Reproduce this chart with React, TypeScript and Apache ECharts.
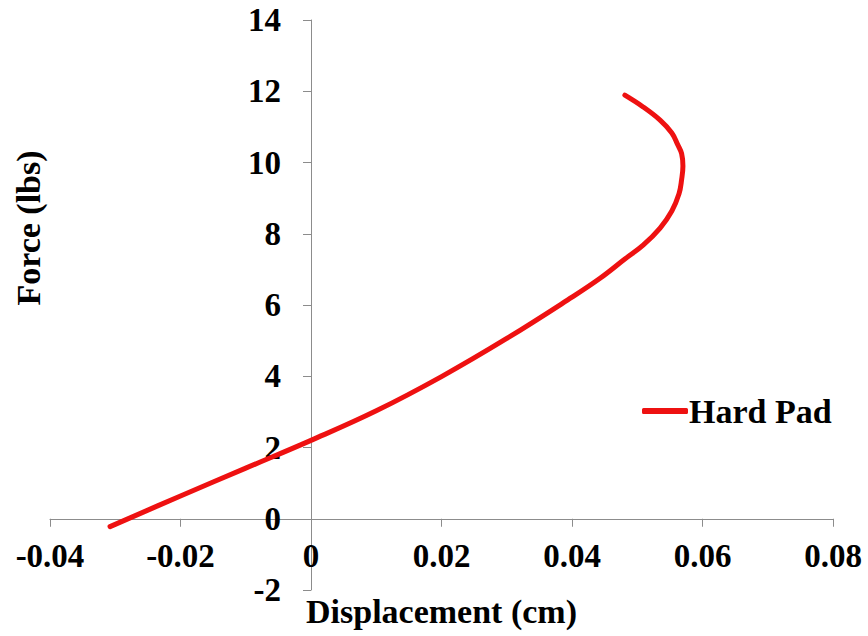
import React, { useEffect, useRef } from "react";
import * as echarts from "echarts";

const seriesName = "Hard Pad";
const displacement = [
  -0.0308, -0.02, -0.01, 0, 0.01, 0.02, 0.03, 0.04, 0.0443, 0.0481, 0.0509, 0.0535,
  0.0553, 0.0564, 0.0568, 0.057, 0.0568, 0.0562, 0.0553, 0.0535, 0.0509, 0.0481,
];
const force = [
  -0.22, 0.64, 1.42, 2.2, 3.03, 3.99, 5.06, 6.22, 6.75, 7.29, 7.68, 8.16, 8.64,
  9.12, 9.52, 9.9, 10.25, 10.5, 10.83, 11.19, 11.56, 11.89,
];
const xTicks = { min: -0.04, max: 0.08, interval: 0.02 };
const yTicks = { min: -2, max: 14, interval: 2 };
const xTitle = "Displacement (cm)";
const yTitle = "Force (lbs)";

const FONT = "'Liberation Serif', 'Times New Roman', serif";
const W = 868;
const H = 636;
const GRID = { left: 50, right: 35, top: 20, bottom: 46 };

export default function App() {
  const ref = useRef<HTMLDivElement>(null);
  useEffect(() => {
    if (!ref.current) return;
    const chart = echarts.init(ref.current, undefined, { renderer: "svg" });
    const tickStyle = {
      fontFamily: FONT,
      fontWeight: "bold" as const,
      fontSize: 33,
      color: "#000",
    };
    const titleStyle = { ...tickStyle, fontSize: 34 };
    const gw = W - GRID.left - GRID.right;
    const gh = H - GRID.top - GRID.bottom;
    // place axes at the zero of the other axis
    const yAxisShift = ((0 - xTicks.min) / (xTicks.max - xTicks.min)) * gw;
    const xAxisShift = ((0 - yTicks.min) / (yTicks.max - yTicks.min)) * gh;
    chart.setOption({
      animation: false,
      backgroundColor: "#fff",
      grid: { ...GRID, containLabel: false, outerBoundsMode: "none" },
      xAxis: {
        type: "value",
        min: xTicks.min,
        max: xTicks.max,
        interval: xTicks.interval,
        offset: -xAxisShift,
        axisLine: { onZero: false, lineStyle: { color: "#8c8c8c", width: 1 } },
        axisTick: { show: true, inside: false, length: 8, lineStyle: { color: "#8c8c8c" } },
        splitLine: { show: false },
        axisLabel: {
          ...tickStyle,
          margin: 21,
          formatter: (v: number) => String(+v.toFixed(2)),
        },
        name: xTitle,
        nameLocation: "middle",
        nameGap: 76,
        nameTextStyle: { ...titleStyle },
      },
      yAxis: {
        type: "value",
        min: yTicks.min,
        max: yTicks.max,
        interval: yTicks.interval,
        offset: -yAxisShift,
        axisLine: { onZero: false, lineStyle: { color: "#8c8c8c", width: 1 } },
        axisTick: { show: true, inside: false, length: 8, lineStyle: { color: "#8c8c8c" } },
        splitLine: { show: false },
        axisLabel: { ...tickStyle, margin: 30 },
      },
      legend: {
        left: 637,
        top: 389,
        icon: "roundRect",
        itemWidth: 46,
        itemHeight: 6,
        itemGap: 4,
        textStyle: { ...titleStyle, padding: [0, 0, 0, -4] },
        data: [seriesName],
      },
      graphic: [
        {
          type: "text",
          x: 28,
          y: 228,
          rotation: Math.PI / 2,
          style: {
            text: yTitle,
            font: `bold 34px ${FONT}`,
            fill: "#000",
            align: "center",
            verticalAlign: "middle",
          },
        },
      ],
      series: [
        {
          name: seriesName,
          type: "line",
          showSymbol: false,
          smooth: 0.4,
          lineStyle: { color: "#ee1111", width: 5, cap: "round", join: "round" },
          itemStyle: { color: "#ee1111" },
          data: displacement.map((x, i) => [x, force[i]]),
        },
      ],
    });
    return () => chart.dispose();
  }, []);
  return (
    <div
      ref={ref}
      style={{ position: "fixed", left: 0, top: 0, width: W, height: H }}
    />
  );
}
